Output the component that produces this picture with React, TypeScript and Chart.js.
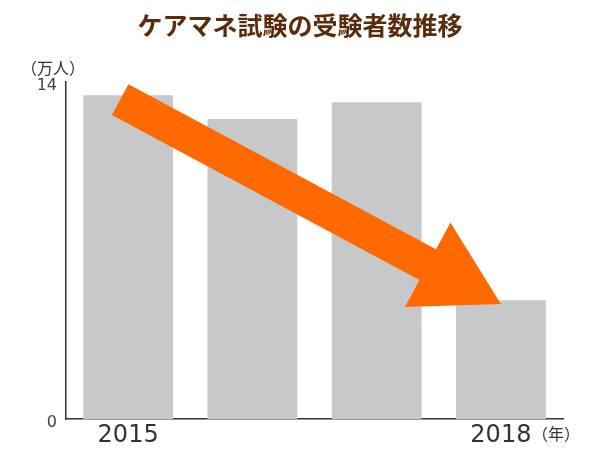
import { useEffect, useRef } from 'react';
import { Chart, registerables } from 'chart.js';

Chart.register(...registerables);

// data (万人)
const years = ['2015', '2016', '2017', '2018'];
const tickLabels = ['2015', '', '', '2018'];
const examinees = [13.45, 12.46, 13.16, 4.93];
const yTicks = [0, 14];

// arrow from/to in data units (category index, value)
const arrowFrom = [-0.064, 13.27];
const arrowTo = [3.0, 4.78];

const TITLE = 'ケアマネ試験の受験者数推移';
const JP = "'Noto Sans CJK JP', 'Noto Sans', sans-serif";
const NUM = "'DejaVu Sans', Verdana, sans-serif";
const TEXT = '#333333';

const overlayPlugin = {
  id: 'overlay',
  afterDatasetsDraw(chart: Chart) {
    const { ctx, scales } = chart;
    const x = scales.x;
    const y = scales.y;
    const x0 = x.getPixelForValue(arrowFrom[0]);
    const y0 = y.getPixelForValue(arrowFrom[1]);
    const x1 = x.getPixelForValue(arrowTo[0]);
    const y1 = y.getPixelForValue(arrowTo[1]);
    const len = Math.hypot(x1 - x0, y1 - y0);
    const ang = Math.atan2(y1 - y0, x1 - x0);
    const shaft = 17.5;
    const head = 48;
    const headLen = 83;

    ctx.save();
    ctx.translate(x0, y0);
    ctx.rotate(ang);
    ctx.beginPath();
    ctx.moveTo(0, -shaft);
    ctx.lineTo(len - headLen, -shaft);
    ctx.lineTo(len - headLen, -head);
    ctx.lineTo(len, 0);
    ctx.lineTo(len - headLen, head);
    ctx.lineTo(len - headLen, shaft);
    ctx.lineTo(0, shaft);
    ctx.closePath();
    ctx.fillStyle = '#ff6a00';
    ctx.fill();
    ctx.restore();
  },
  afterDraw(chart: Chart) {
    const { ctx, chartArea } = chart;
    ctx.save();
    ctx.fillStyle = '#5b2c0b';
    ctx.font = `bold 25px ${JP}`;
    ctx.textAlign = 'center';
    ctx.textBaseline = 'middle';
    ctx.fillText(TITLE, chart.width / 2, 25);

    ctx.fillStyle = TEXT;
    ctx.font = `16px ${JP}`;
    ctx.textAlign = 'left';
    ctx.fillText('（万人）', chartArea.left - 45, chartArea.top - 14);
    ctx.fillText('（年）', chartArea.right - 31, chartArea.bottom + 15);
    ctx.restore();
  }
};

export default function App() {
  const canvasRef = useRef<HTMLCanvasElement | null>(null);
  const chartRef = useRef<Chart<'bar'> | null>(null);

  useEffect(() => {
    if (!canvasRef.current) return;
    if (chartRef.current) chartRef.current.destroy();

    chartRef.current = new Chart(canvasRef.current, {
      type: 'bar',
      data: {
        labels: years,
        datasets: [
          {
            data: examinees,
            backgroundColor: '#c7c8ca',
            borderWidth: 0,
            barPercentage: 0.723,
            categoryPercentage: 1
          }
        ]
      },
      options: {
        animation: false,
        responsive: true,
        maintainAspectRatio: false,
        layout: { padding: { top: 82, right: 37, left: 0, bottom: 0 } },
        plugins: { legend: { display: false }, tooltip: { enabled: false } },
        scales: {
          x: {
            grid: { display: false, drawTicks: false },
            border: { display: true, color: '#333333', width: 1.5 },
            ticks: {
              color: TEXT,
              font: { family: NUM, size: 24 },
              padding: 2,
              autoSkip: false,
              maxRotation: 0,
              callback: (_v, i) => tickLabels[i]
            },
            afterFit: (s) => {
              s.height = 31;
            }
          },
          y: {
            min: 0,
            max: 14,
            grid: { display: false, drawTicks: false },
            border: { display: true, color: '#333333', width: 1.5 },
            ticks: {
              color: '#444444',
              font: { family: NUM, size: 16 },
              padding: 9,
              labelOffset: 4
            },
            afterBuildTicks: (s) => {
              s.ticks = yTicks.map((v) => ({ value: v }));
            },
            afterFit: (s) => {
              s.width = 66;
            }
          }
        }
      },
      plugins: [overlayPlugin]
    });

    return () => {
      if (chartRef.current) {
        chartRef.current.destroy();
        chartRef.current = null;
      }
    };
  }, []);

  return (
    <div style={{ position: 'absolute', left: 0, top: 0, width: 600, height: 450, background: '#fff' }}>
      <canvas ref={canvasRef} />
    </div>
  );
}
